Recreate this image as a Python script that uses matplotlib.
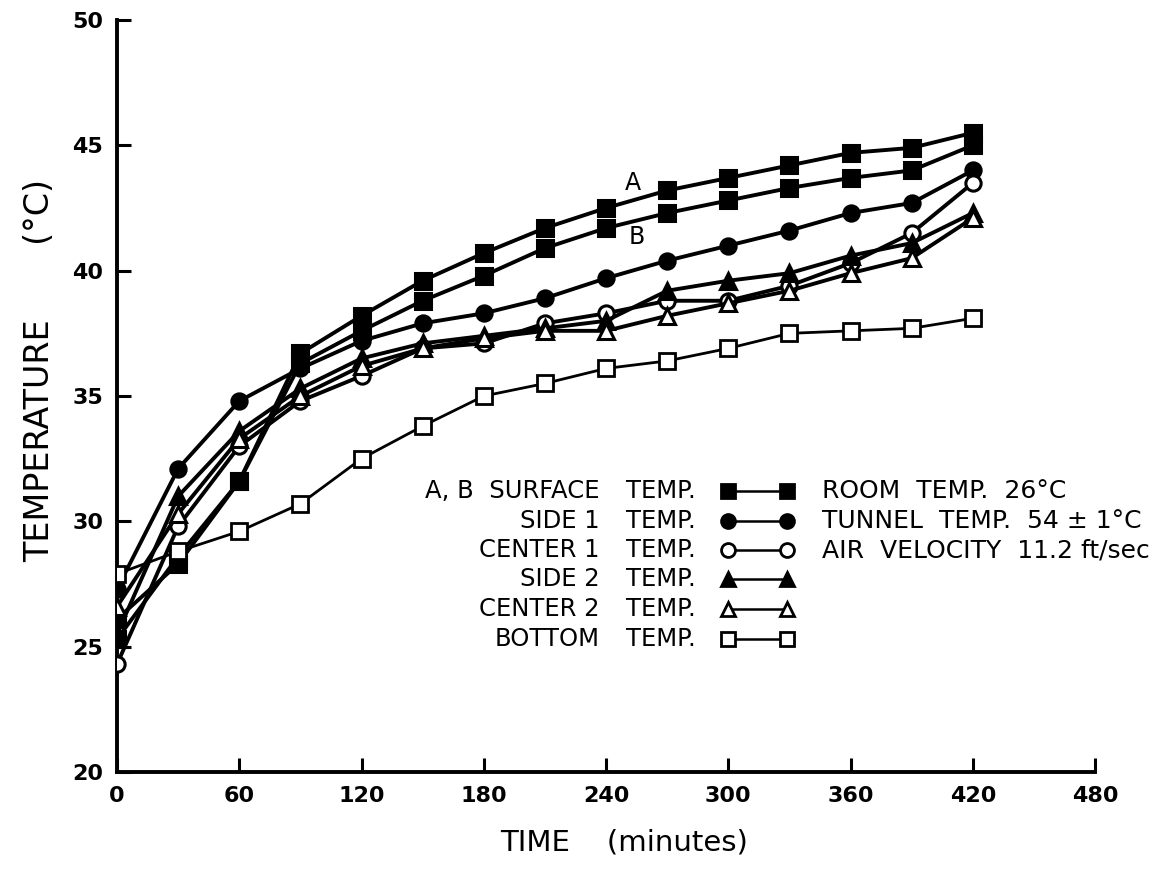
import numpy as np
import matplotlib
matplotlib.use('Agg')
import matplotlib.pyplot as plt

# time in minutes
t = [0, 30, 60, 90, 120, 150, 180, 210, 240, 270, 300, 330, 360, 390, 420]

surf_a = [25.3, 28.6, 31.6, 36.7, 38.2, 39.6, 40.7, 41.7, 42.5, 43.2, 43.7, 44.2, 44.7, 44.9, 45.5]
surf_b = [26.1, 28.3, 31.6, 36.3, 37.6, 38.8, 39.8, 40.9, 41.7, 42.3, 42.8, 43.3, 43.7, 44.0, 45.0]
side1 = [27.3, 32.1, 34.8, 36.1, 37.2, 37.9, 38.3, 38.9, 39.7, 40.4, 41.0, 41.6, 42.3, 42.7, 44.0]
center1 = [24.3, 29.8, 33.0, 34.8, 35.8, 36.9, 37.1, 37.9, 38.3, 38.8, 38.8, 39.4, 40.3, 41.5, 43.5]
side2 = [25.5, 31.0, 33.6, 35.3, 36.5, 37.1, 37.4, 37.7, 38.0, 39.2, 39.6, 39.9, 40.6, 41.1, 42.3]
center2 = [26.6, 30.3, 33.3, 35.0, 36.2, 36.9, 37.3, 37.6, 37.6, 38.2, 38.7, 39.2, 39.9, 40.5, 42.1]
bottom = [27.9, 28.8, 29.6, 30.7, 32.5, 33.8, 35.0, 35.5, 36.1, 36.4, 36.9, 37.5, 37.6, 37.7, 38.1]

legend_names = ['A, B  SURFACE', 'SIDE 1', 'CENTER 1', 'SIDE 2', 'CENTER 2', 'BOTTOM']
notes = ['ROOM  TEMP.  26\u00b0C', 'TUNNEL  TEMP.  54 \u00b1 1\u00b0C', 'AIR  VELOCITY  11.2 ft/sec']

plt.rcParams['font.family'] = ['DejaVu Sans']

fig = plt.figure(figsize=(11.7, 8.82), dpi=100)
ax = fig.add_axes([0.1, 0.1247, 0.836, 0.8526])

k = 'black'
lw = 2.8
ms = 11
styles = [
    (surf_a, 's', k),
    (surf_b, 's', k),
    (side1, 'o', k),
    (center1, 'o', 'white'),
    (side2, '^', k),
    (center2, '^', 'white'),
]
for y, m, fc in styles:
    ax.plot(t, y, color=k, lw=lw, marker=m, ms=ms, mfc=fc, mec=k, mew=2.2, zorder=3)
ax.plot(t, bottom, color=k, lw=2, marker='s', ms=ms, mfc='white', mec=k, mew=2, zorder=3)

ax.text(253, 43.5, 'A', fontsize=17, ha='center', va='center')
ax.text(255, 41.35, 'B', fontsize=17, ha='center', va='center')

# legend drawn by hand
rows = [31.2, 30.0, 28.85, 27.7, 26.5, 25.3]
leg = [('s', k), ('o', k), ('o', 'white'), ('^', k), ('^', 'white'), ('s', 'white')]
for i, name in enumerate(legend_names):
    yy = rows[i]
    ax.text(237, yy, name, fontsize=17.5, ha='right', va='center')
    ax.text(250, yy, 'TEMP.', fontsize=17.5, ha='left', va='center')
    m, fc = leg[i]
    ax.plot([300, 329], [yy, yy], color=k, lw=1.8, marker=m, ms=10,
            mfc=fc, mec=k, mew=2, clip_on=False)
for i, s in enumerate(notes):
    ax.text(346, rows[i], s, fontsize=18, ha='left', va='center')

ax.set_xlim(0, 480)
ax.set_ylim(20, 50)
ax.set_xticks(range(0, 481, 60))
ax.set_yticks(range(20, 51, 5))
ax.spines['top'].set_visible(False)
ax.spines['right'].set_visible(False)
ax.spines['left'].set_linewidth(2.8)
ax.spines['bottom'].set_linewidth(2.8)
ax.tick_params(direction='in', length=10, width=2.2, labelsize=16, pad=10)
for lab in ax.get_xticklabels() + ax.get_yticklabels():
    lab.set_fontweight('bold')

fig.text(0.533, 0.045, 'TIME    (minutes)', fontsize=21, ha='center', va='center')
fig.text(0.034, 0.58, 'TEMPERATURE       (\u00b0C)', fontsize=24, rotation=90,
         ha='center', va='center')

fig.savefig('out.png', dpi=100)
